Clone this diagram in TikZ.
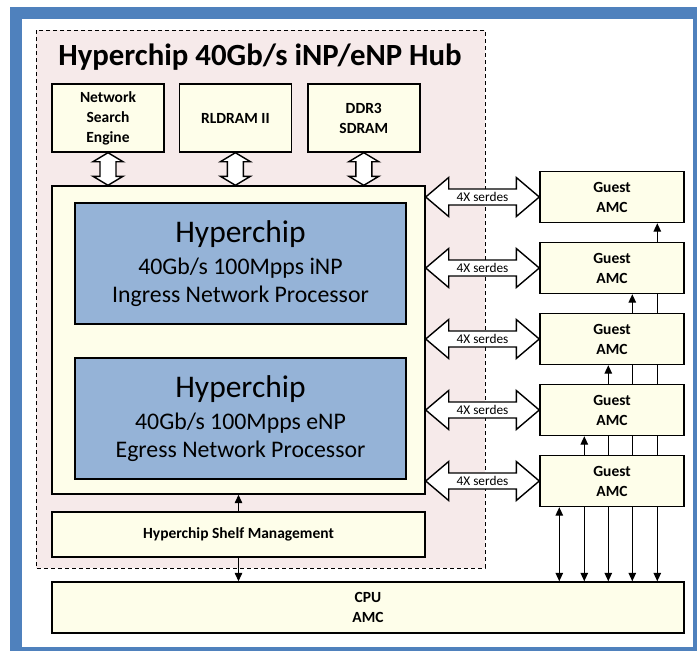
\documentclass[tikz,border=0pt]{standalone}
\usepackage{fontspec}
\setmainfont{Carlito}
\usetikzlibrary{positioning, arrows.meta, calc}
\usepackage{xcolor}

\definecolor{framecol}{HTML}{4F81BD}
\definecolor{npblue}{HTML}{95B3D7}
\definecolor{cream}{HTML}{FEFEEA}
\definecolor{hubpink}{HTML}{F6EAEA}

\pgfdeclarelayer{bg}
\pgfsetlayers{bg,main}

% fat white double arrows
\newcommand{\fatvert}[2]{%
  \draw[fat] (#1) -- ++(15pt,-9pt) -- ++(-7pt,0pt) -- ($(#2)+(8pt,9pt)$) -- ++(7pt,0pt)
    -- (#2) -- ++(-15pt,9pt) -- ++(7pt,0pt) -- ($(#1)+(-8pt,-9pt)$) -- ++(-7pt,0pt) -- cycle;}
\newcommand{\fathoriz}[3]{%
  \draw[fat] (#1) -- ++(23pt,19.5pt) -- ++(0pt,-11.5pt) -- ($(#2)+(-23pt,8pt)$) -- ++(0pt,11.5pt)
    -- (#2) -- ++(-23pt,-19.5pt) -- ++(0pt,11.5pt) -- ($(#1)+(23pt,-8pt)$) -- ++(0pt,-11.5pt) -- cycle;
  \node[serdes] at ($(#1)!0.5!(#2)$) {#3};}

\begin{document}
\begin{tikzpicture}[x=1pt, y=-1pt, >={Triangle[length=8.5pt,width=7.5pt]}, node distance=18.6pt,
    box/.style={draw, line width=1.4pt, fill=cream, inner sep=0pt, align=center,
                font=\bfseries\fontsize{15.5}{20}\selectfont},
    membox/.style={box, minimum width=112pt, minimum height=68pt},
    guest/.style={box, minimum width=144pt, minimum height=51pt},
    np/.style={draw, line width=1.4pt, fill=npblue, inner sep=0pt, align=center,
               minimum width=331pt, minimum height=121pt, font=\fontsize{23.8}{28}\selectfont},
    fat/.style={draw, fill=white, line width=1.4pt, line join=miter},
    serdes/.style={inner sep=0pt, font=\fontsize{13.3}{15}\selectfont},
    link/.style={line width=1.3pt},
    hub/.style={draw, fill=hubpink, line width=0.9pt, dash pattern=on 4pt off 3pt}]

    \useasboundingbox (0,0) rectangle (697,651);

    \node[font=\bfseries\fontsize{30.8}{36}\selectfont] (title) at (260,57) {Hyperchip 40Gb/s iNP/eNP Hub};

    \node[membox] (nse) at (108,118) {Network\\Search\\Engine};
    \node[membox, right=14pt of nse] (rldram) {RLDRAM II};
    \node[membox, right=15pt of rldram] (ddr) {DDR3\\SDRAM};

    \node[box, minimum width=373pt, minimum height=308pt] (main) at (238.5,340) {};
    \node[np] (inp) at (240.5,263.5) {{\fontsize{31.5}{32}\selectfont Hyperchip}\\[4pt]40Gb/s 100Mpps iNP\\Ingress Network Processor};
    \node[np] (enp) at (240.5,418.5) {{\fontsize{31.5}{32}\selectfont Hyperchip}\\[4pt]40Gb/s 100Mpps eNP\\Egress Network Processor};

    \node[box, minimum width=373pt, minimum height=45pt] (shelf) at (238.5,534.5) {Hyperchip Shelf Management};
    \node[box, minimum width=632pt, minimum height=51pt] (cpu) at (368,607.5) {CPU\\AMC};

    \node[guest] (g1) at (612,197) {Guest\\AMC};
    \node[guest, below=of g1] (g2) {Guest\\AMC};
    \node[guest, below=of g2] (g3) {Guest\\AMC};
    \node[guest, below=of g3] (g4) {Guest\\AMC};
    \node[guest, below=of g4] (g5) {Guest\\AMC};

    % memories to the hub
    \foreach \m in {nse,rldram,ddr} {
        \coordinate (m\m) at (\m.south |- main.north);
        \fatvert{\m.south}{m\m}
    }

    % serdes links
    \foreach \i in {1,...,5} {
        \coordinate (s\i) at (main.east |- g\i.west);
        \fathoriz{s\i}{g\i.west}{4X serdes}
    }

    \draw[link,->] (shelf) -- (main);
    \draw[link,->] (shelf.south) -- (shelf.south |- cpu.north);

    \begin{pgfonlayer}{bg}
        \fill[framecol] (10,7) rectangle (697,651);
        \fill[white] (22,19) rectangle (693,647);
        \draw[hub] (36,30) rectangle (485,568);
        % cpu to guests
        \foreach \g/\dx in {g5/20pt,g4/45pt,g3/69pt,g2/93pt,g1/118pt} {
            \coordinate (b\g) at ($(\g.south west)+(\dx,0pt)$);
            \draw[link,<->] (b\g) -- (b\g |- cpu.north);
        }
    \end{pgfonlayer}
\end{tikzpicture}
\end{document}
